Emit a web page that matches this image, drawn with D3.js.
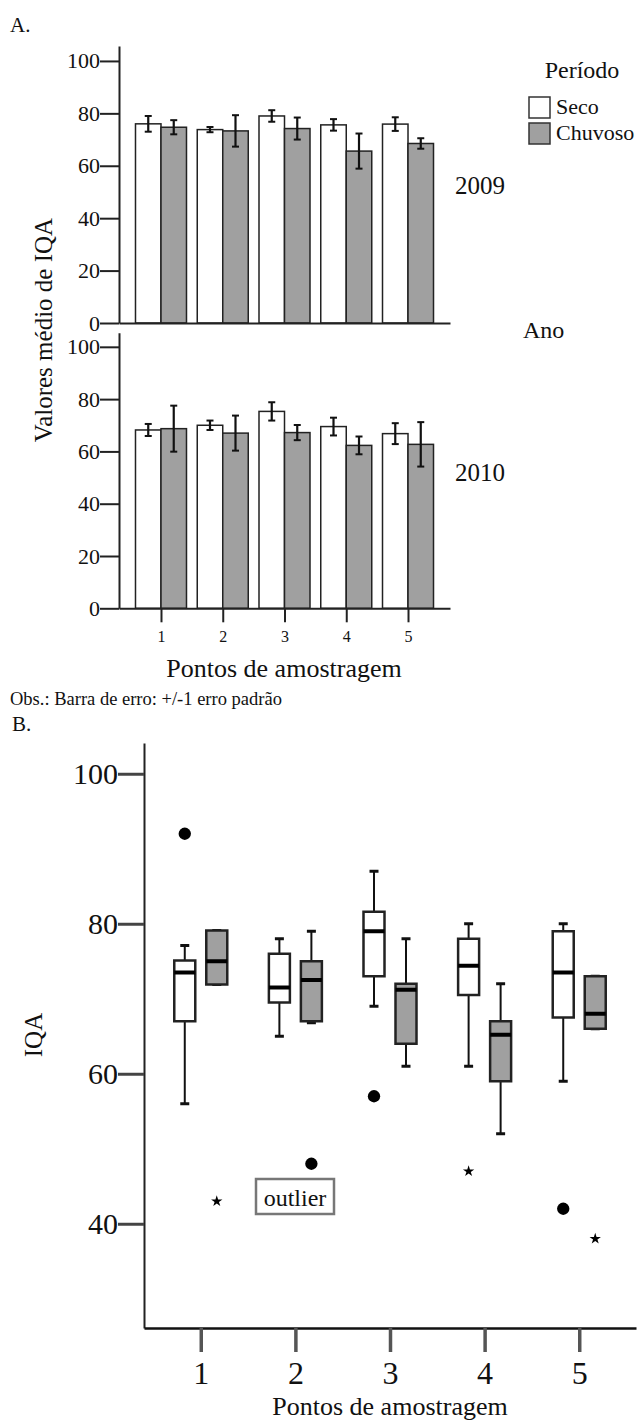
<!DOCTYPE html>
<html>
<head>
<meta charset="utf-8">
<script src="https://cdn.jsdelivr.net/npm/d3@7"></script>
<style>
  body { margin: 0; background: #fff; }
  svg text { font-family: "Liberation Serif", "DejaVu Serif", serif; fill: #111; }
</style>
</head>
<body>
<div id="chart"></div>
<script>
(function () {
    var serif = "'Liberation Serif', 'DejaVu Serif', serif";

    // categories (sampling points)
    var pontos = ["1", "2", "3", "4", "5"];
    var periodos = ["Seco", "Chuvoso"];

    // panel A: mean IQA and standard error
    var seco2009 = [76, 73.8, 79, 75.6, 75.9];
    var seco2009Err = [3, 1, 2.2, 2.2, 2.6];
    var chuv2009 = [74.7, 73.3, 74.2, 65.6, 68.5];
    var chuv2009Err = [2.7, 6, 4.2, 6.7, 2];
    var seco2010 = [68.2, 70, 75.3, 69.5, 66.8];
    var seco2010Err = [2.3, 1.8, 3.5, 3.4, 4];
    var chuv2010 = [68.7, 67, 67.2, 62.3, 62.7];
    var chuv2010Err = [8.8, 6.7, 2.9, 3.4, 8.5];
    var ticksA = [0, 20, 40, 60, 80, 100];

    // panel B: box stats [min whisker, q1, median, q3, max whisker]
    var boxSeco = [
        [56, 67, 73.5, 75.1, 77.1],
        [65, 69.5, 71.5, 76, 78],
        [69, 73, 79, 81.6, 87],
        [61, 70.5, 74.4, 78, 80],
        [59, 67.5, 73.5, 79, 80]
    ];
    var boxChuv = [
        [71.9, 71.9, 75, 79.1, 79.1],
        [66.8, 67, 72.5, 75, 79],
        [61, 64, 71.2, 72, 78],
        [52, 59, 65.2, 67, 72],
        [66, 66, 68, 73, 73]
    ];
    // outliers: ponto, periodo, value, kind
    var outliers = [
        { p: "1", s: "Seco", v: 92, k: "circle" },
        { p: "1", s: "Chuvoso", v: 43, k: "star" },
        { p: "2", s: "Chuvoso", v: 48, k: "circle" },
        { p: "3", s: "Seco", v: 57, k: "circle" },
        { p: "4", s: "Seco", v: 47, k: "star" },
        { p: "5", s: "Seco", v: 42, k: "circle" },
        { p: "5", s: "Chuvoso", v: 38, k: "star" }
    ];
    var ticksB = [40, 60, 80, 100];

    var svg = d3.select("#chart")
        .append("svg")
        .attr("width", 640)
        .attr("height", 1421);

    // ---------- panel A ----------
    svg.append("text").attr("x", 10).attr("y", 32)
        .style("font-size", "21px").text("A.");

    var xA = d3.scalePoint().domain(pontos).range([119, 450]).padding(0.68);
    var barW = 25.5;

    var panels = [
        { ano: "2009", y: d3.scaleLinear().domain([0, 105.7]).range([323, 46]),
          seco: seco2009, secoErr: seco2009Err, chuv: chuv2009, chuvErr: chuv2009Err, ticks: false },
        { ano: "2010", y: d3.scaleLinear().domain([0, 105.4]).range([608.3, 332.7]),
          seco: seco2010, secoErr: seco2010Err, chuv: chuv2010, chuvErr: chuv2010Err, ticks: true }
    ];

    panels.forEach(function (pn) {
        var g = svg.append("g");
        var y = pn.y;

        // bars
        var rows = [];
        pontos.forEach(function (p, i) {
            rows.push({ p: p, s: "Seco", v: pn.seco[i], e: pn.secoErr[i] });
            rows.push({ p: p, s: "Chuvoso", v: pn.chuv[i], e: pn.chuvErr[i] });
        });

        g.selectAll("rect.bar")
            .data(rows)
            .enter()
            .append("rect")
            .attr("x", function (d) { return d.s == "Seco" ? xA(d.p) - barW : xA(d.p); })
            .attr("y", function (d) { return y(d.v); })
            .attr("width", barW)
            .attr("height", function (d) { return y(0) - y(d.v); })
            .attr("fill", function (d) { return d.s == "Seco" ? "#fff" : "#a0a0a0"; })
            .attr("stroke", "#222")
            .attr("stroke-width", 1.5);

        // error bars
        var cx = function (d) { return d.s == "Seco" ? xA(d.p) - barW / 2 : xA(d.p) + barW / 2; };
        g.selectAll("line.err")
            .data(rows)
            .enter()
            .append("line")
            .attr("x1", cx).attr("x2", cx)
            .attr("y1", function (d) { return y(d.v + d.e); })
            .attr("y2", function (d) { return y(d.v - d.e); })
            .attr("stroke", "#111").attr("stroke-width", 2.2);
        [1, -1].forEach(function (sg) {
            g.selectAll("line.cap" + sg)
                .data(rows)
                .enter()
                .append("line")
                .attr("x1", function (d) { return cx(d) - 3.5; })
                .attr("x2", function (d) { return cx(d) + 3.5; })
                .attr("y1", function (d) { return y(d.v + sg * d.e); })
                .attr("y2", function (d) { return y(d.v + sg * d.e); })
                .attr("stroke", "#111").attr("stroke-width", 2);
        });

        // y axis
        var ya = g.append("g")
            .attr("transform", "translate(119,0)")
            .call(d3.axisLeft(y).tickValues(ticksA).tickSize(19).tickSizeOuter(0).tickPadding(0));
        ya.attr("font-family", null);
        ya.selectAll("path, line").attr("stroke", "#222").attr("stroke-width", 2);
        ya.selectAll("text")
            .style("font-family", serif)
            .style("font-size", "22px")
            .attr("fill", "#222");

        // x axis
        var xa = g.append("g")
            .attr("transform", "translate(0," + y(0) + ")")
            .call(d3.axisBottom(xA).tickSize(pn.ticks ? 14 : 0).tickSizeOuter(0).tickPadding(8));
        xa.attr("font-family", null);
        xa.selectAll("path, line").attr("stroke", "#222").attr("stroke-width", 2);
        xa.selectAll("text")
            .style("font-family", serif)
            .style("font-size", "16px")
            .attr("fill", "#222")
            .text(function (d) { return pn.ticks ? d : ""; });

        // year label
        g.append("text")
            .attr("x", 455)
            .attr("y", pn.ano == "2009" ? 194 : 481)
            .style("font-size", "25px")
            .attr("fill", "#333")
            .text(pn.ano);
    });

    svg.append("text")
        .attr("transform", "translate(43,330) rotate(-90)")
        .attr("text-anchor", "middle")
        .attr("dominant-baseline", "central")
        .style("font-size", "25px")
        .text("Valores médio de IQA");

    svg.append("text")
        .attr("x", 284).attr("y", 677)
        .attr("text-anchor", "middle")
        .style("font-size", "26px")
        .text("Pontos de amostragem");

    svg.append("text")
        .attr("x", 10).attr("y", 705)
        .style("font-size", "18.5px")
        .text("Obs.: Barra de erro: +/-1 erro padrão");

    // legend
    svg.append("text").attr("x", 582).attr("y", 78)
        .attr("text-anchor", "middle")
        .style("font-size", "24px").text("Período");
    var leg = svg.selectAll("g.leg")
        .data(periodos)
        .enter()
        .append("g")
        .attr("transform", function (d, i) { return "translate(529," + (97 + i * 26) + ")"; });
    leg.append("rect")
        .attr("width", 21).attr("height", 21)
        .attr("fill", function (d) { return d == "Seco" ? "#fff" : "#a0a0a0"; })
        .attr("stroke", "#333").attr("stroke-width", 1.5);
    leg.append("text")
        .attr("x", 27).attr("y", 17)
        .style("font-size", "22px")
        .text(function (d) { return d; });

    svg.append("text").attr("x", 523).attr("y", 338)
        .style("font-size", "24px").text("Ano");

    // ---------- panel B ----------
    svg.append("text").attr("x", 12).attr("y", 731)
        .style("font-size", "21px").text("B.");

    var xB = d3.scalePoint().domain(pontos).range([144, 636]).padding(0.6);
    var yB = d3.scaleLinear().domain([26.1, 104.1]).range([1328, 743]);
    var boxW = 21, off = 16;

    var boxes = [];
    pontos.forEach(function (p, i) {
        boxes.push({ p: p, s: "Seco", st: boxSeco[i] });
        boxes.push({ p: p, s: "Chuvoso", st: boxChuv[i] });
    });
    var bx = function (d) { return xB(d.p) + (d.s == "Seco" ? -off : off); };

    var gb = svg.append("g");
    // whiskers
    gb.selectAll("line.wh")
        .data(boxes)
        .enter()
        .append("line")
        .attr("x1", bx).attr("x2", bx)
        .attr("y1", function (d) { return yB(d.st[0]); })
        .attr("y2", function (d) { return yB(d.st[4]); })
        .attr("stroke", "#111").attr("stroke-width", 2);
    [0, 4].forEach(function (k) {
        gb.selectAll("line.cap" + k)
            .data(boxes)
            .enter()
            .append("line")
            .attr("x1", function (d) { return bx(d) - 4.5; })
            .attr("x2", function (d) { return bx(d) + 4.5; })
            .attr("y1", function (d) { return yB(d.st[k]); })
            .attr("y2", function (d) { return yB(d.st[k]); })
            .attr("stroke", "#111").attr("stroke-width", 3);
    });
    // boxes
    gb.selectAll("rect.box")
        .data(boxes)
        .enter()
        .append("rect")
        .attr("x", function (d) { return bx(d) - boxW / 2; })
        .attr("y", function (d) { return yB(d.st[3]); })
        .attr("width", boxW)
        .attr("height", function (d) { return yB(d.st[1]) - yB(d.st[3]); })
        .attr("fill", function (d) { return d.s == "Seco" ? "#fff" : "#a0a0a0"; })
        .attr("stroke", "#222").attr("stroke-width", 2.5);
    // medians
    gb.selectAll("line.med")
        .data(boxes)
        .enter()
        .append("line")
        .attr("x1", function (d) { return bx(d) - boxW / 2; })
        .attr("x2", function (d) { return bx(d) + boxW / 2; })
        .attr("y1", function (d) { return yB(d.st[2]); })
        .attr("y2", function (d) { return yB(d.st[2]); })
        .attr("stroke", "#000").attr("stroke-width", 4);

    // outliers
    gb.selectAll("path.out")
        .data(outliers)
        .enter()
        .append("path")
        .attr("transform", function (d) { return "translate(" + bx(d) + "," + yB(d.v) + ")"; })
        .attr("d", function (d) {
            return d.k == "circle"
                ? d3.symbol(d3.symbolCircle).size(120)()
                : d3.symbol(d3.symbolStar).size(40)();
        })
        .attr("fill", "#000");

    // outlier label
    var lab = svg.append("g");
    lab.append("rect")
        .attr("x", 256).attr("y", 1179)
        .attr("width", 78).attr("height", 35)
        .attr("fill", "#fff")
        .attr("stroke", "#777").attr("stroke-width", 2.5);
    lab.append("text")
        .attr("x", 295).attr("y", 1206)
        .attr("text-anchor", "middle")
        .style("font-size", "24px")
        .text("outlier");

    // axes B
    var yaB = svg.append("g")
        .attr("transform", "translate(144,0)")
        .call(d3.axisLeft(yB).tickValues(ticksB).tickSize(26).tickSizeOuter(0).tickPadding(0));
    yaB.attr("font-family", null);
    yaB.select("path").attr("stroke", "#222").attr("stroke-width", 2);
    yaB.selectAll("line").attr("stroke", "#444").attr("stroke-width", 3);
    yaB.selectAll("text")
        .style("font-family", serif)
        .style("font-size", "30px")
        .attr("fill", "#222");

    var xaB = svg.append("g")
        .attr("transform", "translate(0,1328)")
        .call(d3.axisBottom(xB).tickSize(24).tickSizeOuter(0).tickPadding(9));
    xaB.attr("font-family", null);
    xaB.select("path").attr("stroke", "#111").attr("stroke-width", 2.5);
    xaB.selectAll("line").attr("stroke", "#555").attr("stroke-width", 3.5);
    xaB.selectAll("text")
        .style("font-family", serif)
        .style("font-size", "32px")
        .attr("fill", "#222");

    svg.append("text")
        .attr("transform", "translate(33,1035) rotate(-90)")
        .attr("text-anchor", "middle")
        .attr("dominant-baseline", "central")
        .style("font-size", "25px")
        .text("IQA");

    svg.append("text")
        .attr("x", 390).attr("y", 1415)
        .attr("text-anchor", "middle")
        .style("font-size", "26px")
        .text("Pontos de amostragem");
})();
</script>
</body>
</html>
